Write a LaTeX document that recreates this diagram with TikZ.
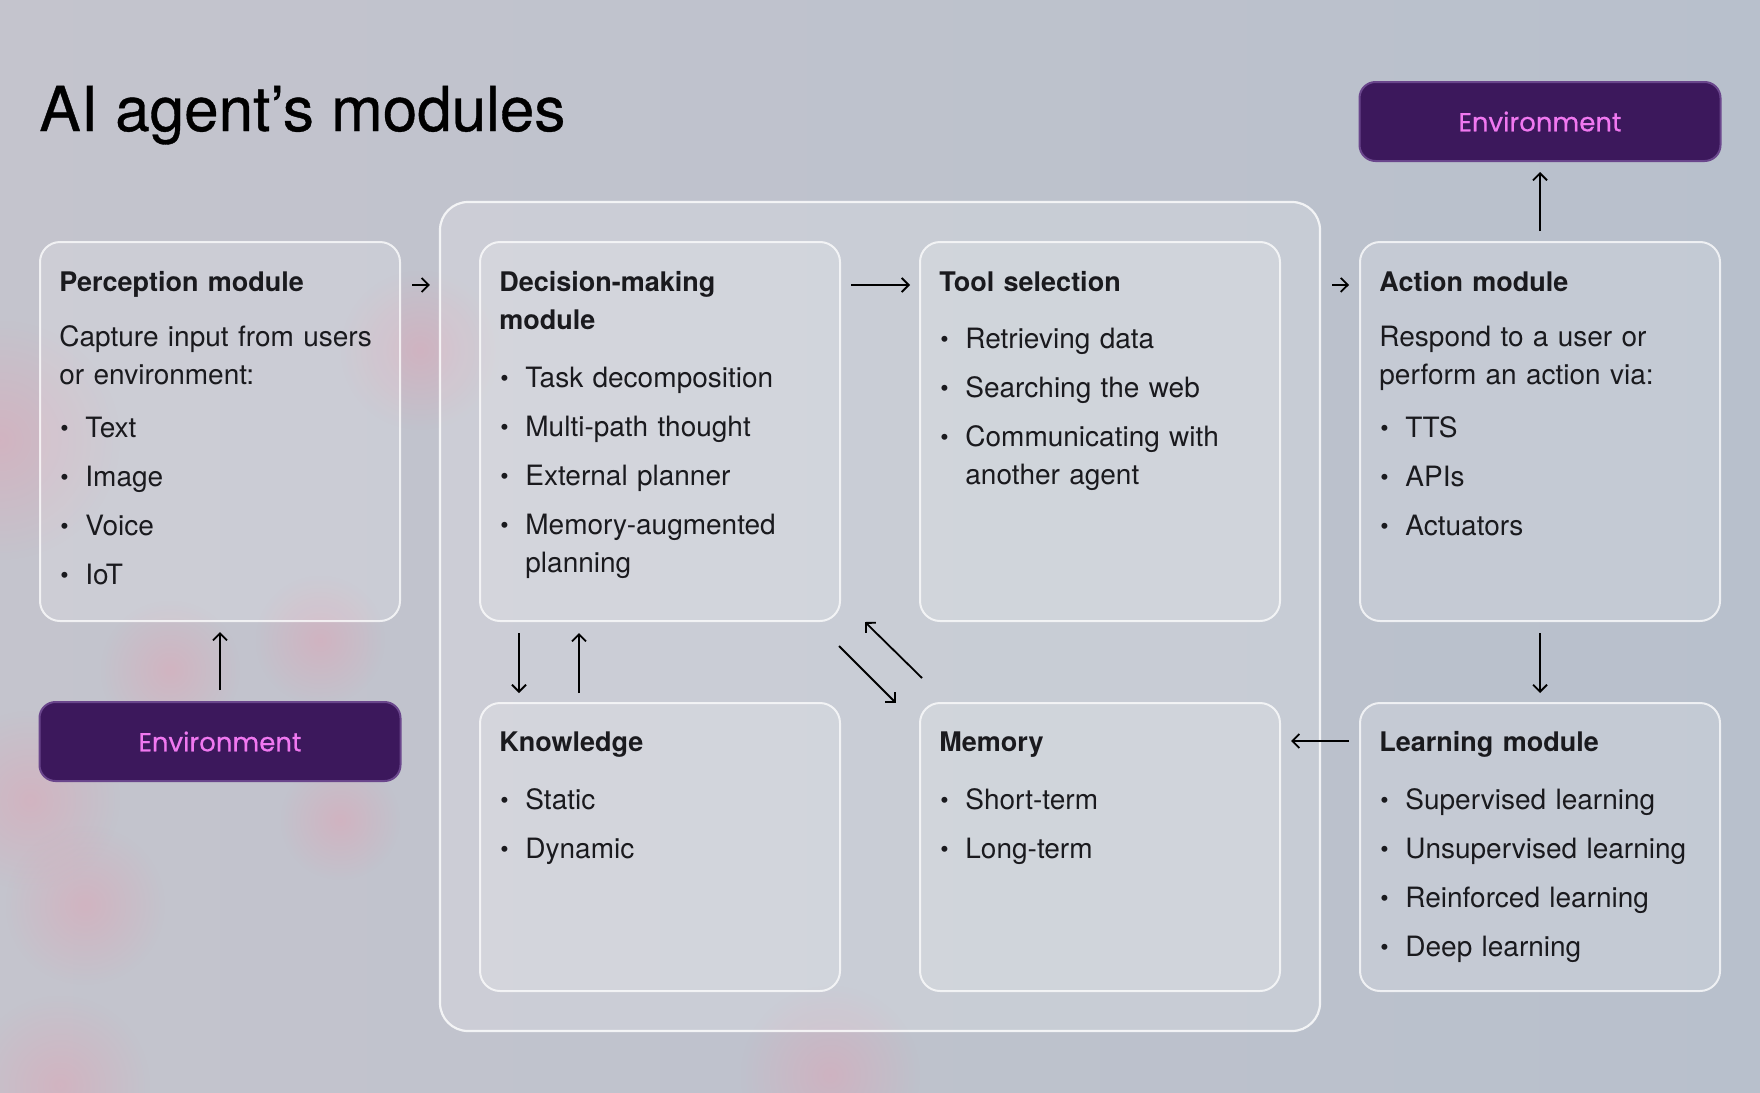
\documentclass[tikz,border=0pt]{standalone}
\usepackage{fontspec}
\usepackage{graphicx}
\setmainfont{TeX Gyre Heros}
\newfontfamily\envfont{Poppins}[BoldFont=Poppins,BoldFeatures={FakeBold=0.5}]
\newfontfamily\titlefont{TeX Gyre Heros}[BoldFont=TeX Gyre Heros,BoldFeatures={FakeBold=0.6}]
\usepackage{xcolor}
\usepackage{tikz}
\usetikzlibrary{arrows.meta,positioning,fadings}
\definecolor{bgleft}{RGB}{196,196,205}
\definecolor{bgright}{RGB}{184,192,204}
\definecolor{blobpink}{RGB}{226,160,178}
\definecolor{envpurple}{RGB}{60,24,92}
\definecolor{envedge}{RGB}{106,70,140}
\definecolor{envtext}{RGB}{240,120,240}
\definecolor{bodyink}{RGB}{26,26,30}
\tikzfading[name=softblob,inner color=transparent!55,outer color=transparent!100]
\setlength{\parindent}{0pt}
\newcommand{\bul}[1]{\par\vspace{5.5pt}\hangindent=13pt\hangafter=1\noindent\makebox[13pt][l]{\hspace{0.5pt}\raisebox{0.05ex}{\scalebox{0.85}{\textbullet}}}#1\par}

\begin{document}
\begin{tikzpicture}[x=0.5pt,y=-0.5pt,
  modbox/.style={fill=white,fill opacity=0.16,draw=white,draw opacity=0.75,line width=1pt,rounded corners=10pt,minimum width=180pt,inner sep=0pt},
  corebox/.style={fill=white,fill opacity=0.18,draw=white,draw opacity=0.8,line width=1.1pt,rounded corners=14pt,minimum width=440pt,minimum height=414.5pt,inner sep=0pt},
  envbox/.style={fill=envpurple,draw=envedge,line width=1pt,rounded corners=8pt,minimum width=180.5pt,minimum height=39.5pt,text=envtext,font=\envfont\bfseries\fontsize{13}{15}\selectfont},
  modtext/.style={anchor=north west,text width=165pt,align=left,inner sep=0pt,text=bodyink,font=\fontsize{14}{19}\selectfont},
  arr/.style={-{Straight Barb[length=3.5pt,width=7pt]},line width=0.9pt,black}]
% background
\shade[left color=bgleft,right color=bgright] (0,0) rectangle (1760,1092);
\useasboundingbox (0,0) rectangle (1760,1092);
\foreach \bx/\by/\br in {0/440/120,170/670/70,320/640/65,30/800/90,85/905/80,60/1085/90,420/350/80,830/1075/90,340/820/60}
  \fill[blobpink,path fading=softblob] (\bx,\by) circle (\br);
% title
\node[anchor=base west,inner sep=0pt,font=\titlefont\bfseries\fontsize{31}{36}\selectfont] (title) at (39,131) {AI agent’s modules};
% core group
\node[corebox] (core) at (880,616.5) {};
% modules
\node[modbox,minimum height=189.5pt] (percep) at (220,431.5) {};
\node[modbox,minimum height=189.5pt] (dec) at (660,431.5) {};
\node[modbox,minimum height=189.5pt] (tool) at (1100,431.5) {};
\node[modbox,minimum height=189.5pt] (action) at (1540,431.5) {};
\node[modbox,minimum height=144pt] (know) at (660,847) {};
\node[modbox,minimum height=144pt] (mem) at (1100,847) {};
\node[modbox,minimum height=144pt] (learn) at (1540,847) {};
\node[envbox] (envtop) at (1540,121.5) {Environment};
\node[envbox] (envbot) at (220,741.5) {Environment};
% module texts
\node[modtext] (percepT) at ([shift={(20,30)}]percep.north west) {{\bfseries\fontsize{13.5}{19}\selectfont Perception module}\par\vspace{8.5pt}
  Capture input from users\newline or environment:\par\vspace{2pt}
  \bul{Text}\bul{Image}\bul{Voice}\bul{IoT}};
\node[modtext] (decT) at ([shift={(20,30)}]dec.north west) {{\bfseries\fontsize{13.5}{19.5}\selectfont Decision-making\newline module}\par\vspace{4.5pt}
  \bul{Task decomposition}\bul{Multi-path thought}\bul{External planner}\bul{Memory-augmented\newline planning}};
\node[modtext] (toolT) at ([shift={(20,30)}]tool.north west) {{\bfseries\fontsize{13.5}{19}\selectfont Tool selection}\par\vspace{4pt}
  \bul{Retrieving data}\bul{Searching the web}\bul{Communicating with\newline another agent}};
\node[modtext] (actionT) at ([shift={(20,30)}]action.north west) {{\bfseries\fontsize{13.5}{19}\selectfont Action module}\par\vspace{8.5pt}
  Respond to a user or\newline perform an action via:\par\vspace{2pt}
  \bul{TTS}\bul{APIs}\bul{Actuators}};
\node[modtext] (knowT) at ([shift={(20,29)}]know.north west) {{\bfseries\fontsize{13.5}{19}\selectfont Knowledge}\par\vspace{4.5pt}
  \bul{Static}\bul{Dynamic}};
\node[modtext] (memT) at ([shift={(20,29)}]mem.north west) {{\bfseries\fontsize{13.5}{19}\selectfont Memory}\par\vspace{4.5pt}
  \bul{Short-term}\bul{Long-term}};
\node[modtext] (learnT) at ([shift={(20,29)}]learn.north west) {{\bfseries\fontsize{13.5}{19}\selectfont Learning module}\par\vspace{4.5pt}
  \bul{Supervised learning}\bul{Unsupervised learning}\bul{Reinforced learning}\bul{Deep learning}};
% connectors
\draw[arr] ([shift={(11,44)}]percep.north east) -- ([shift={(-9,84)}]core.north west);
\draw[arr] ([shift={(10,44)}]dec.north east) -- ([shift={(-9,44)}]tool.north west);
\draw[arr] ([shift={(11,84)}]core.north east) -- ([shift={(-10,44)}]action.north west);
\draw[arr] ([shift={(0,-10)}]action.north) -- ([shift={(0,10)}]envtop.south);
\draw[arr] ([shift={(0,-11)}]envbot.north) -- ([shift={(0,10)}]percep.south);
\draw[arr] ([shift={(40,11)}]dec.south west) -- ([shift={(40,-9)}]know.north west);
\draw[arr] ([shift={(100,-9)}]know.north west) -- ([shift={(100,11)}]dec.south west);
\draw[arr] ([shift={(-2,24)}]dec.south east) -- ([shift={(-23,1)}]mem.north west);
\draw[arr] ([shift={(3,-24)}]mem.north west) -- ([shift={(24,0)}]dec.south east);
\draw[arr] ([shift={(0,11)}]action.south) -- ([shift={(0,-9)}]learn.north);
\draw[arr] ([shift={(-10,39)}]learn.north west) -- ([shift={(10,39)}]mem.north east);
\end{tikzpicture}
\end{document}
